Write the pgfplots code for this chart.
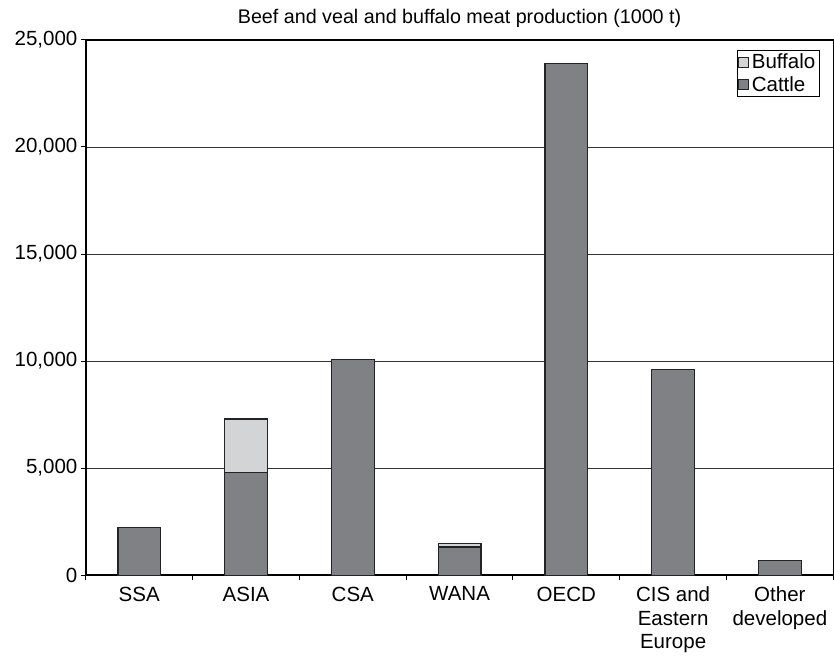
\documentclass[border=0pt]{standalone}
\usepackage{pgfplots}
\pgfplotsset{compat=1.18}
\usepackage{fontspec}
\setmainfont{Liberation Sans}
\definecolor{cattle}{RGB}{128,129,133}
\definecolor{buffalo}{RGB}{211,212,214}
\definecolor{edge}{RGB}{35,35,35}
\begin{document}
\begin{tikzpicture}
\begin{axis}[
    scale only axis,
    width=747bp, height=535bp,
    ybar stacked,
    bar width=0.4,
    xmin=-0.5, xmax=6.5,
    ymin=0, ymax=25000,
    xtick={0,...,6},
    xticklabels={SSA, ASIA, CSA, WANA, OECD, {CIS and\\Eastern\\Europe}, {Other\\developed}},
    xticklabel style={align=center, font=\fontsize{20.5bp}{23.5bp}\selectfont, yshift=-3bp},
    xlabel={\strut},
    xlabel style={font=\fontsize{2bp}{2bp}\selectfont, inner sep=3bp},
    minor xtick={-0.5,0.5,...,6.5},
    major x tick style={draw=none},
    xtick pos=bottom, ytick pos=left,
    ytick={0,5000,...,25000},
    scaled y ticks=false,
    yticklabel style={font=\fontsize{20.5bp}{23bp}\selectfont, text width=74bp, align=right},
    /pgf/number format/assume math mode=true,
    /pgf/number format/1000 sep={,},
    ymajorgrids,
    grid style={draw=black!80, line width=0.8pt},
    tick align=outside,
    major tick length=5bp,
    minor tick length=5bp,
    tick style={draw=black, line width=1pt},
    axis line style={draw=black, line width=1.5pt},
    title={Beef and veal and buffalo meat production (1000 t)},
    title style={font=\fontsize{19.7bp}{23bp}\selectfont, yshift=3bp, text height=20bp},
    legend style={at={(0.982,0.982)}, anchor=north east, draw=black, line width=1pt,
        font=\fontsize{20.5bp}{23bp}\selectfont, inner sep=1pt, row sep=0pt,
        nodes={inner sep=3bp}, cells={anchor=west}},
    legend reversed,
    legend image code/.code={\draw[#1, line width=0.6pt] (0bp,-5bp) rectangle (10bp,5bp);},
]
\addplot[fill=cattle, draw=edge, line width=1.3pt] coordinates {
    (0,2240) (1,4810) (2,10090) (3,1310) (4,23900) (5,9620) (6,700)
};
\addplot[fill=buffalo, draw=edge, line width=1.3pt] coordinates {
    (0,0) (1,2480) (2,0) (3,160) (4,0) (5,0) (6,0)
};
\legend{Cattle, Buffalo}
\end{axis}
\end{tikzpicture}
\end{document}
